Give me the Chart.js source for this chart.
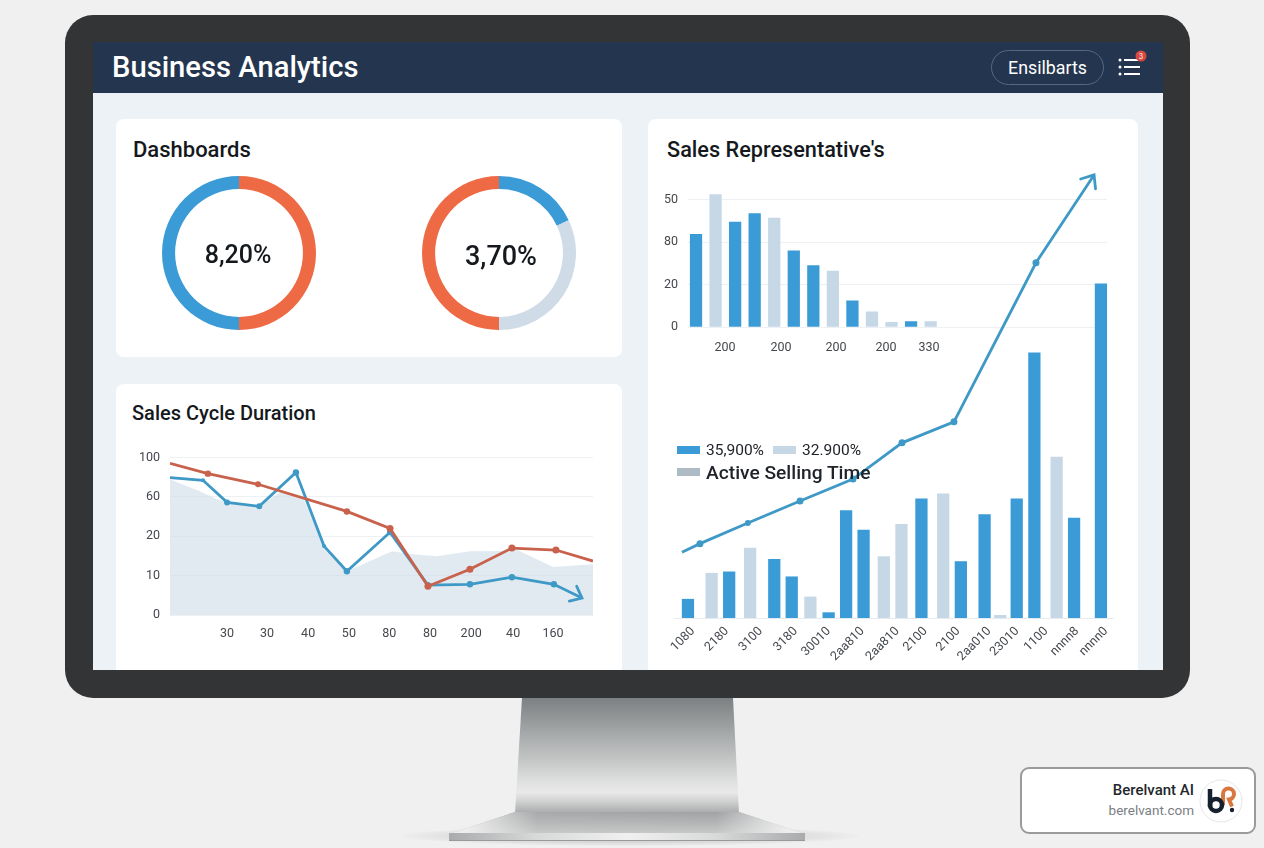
<!DOCTYPE html>
<html lang="en">
<head>
<meta charset="utf-8">
<title>Business Analytics</title>
<script src="https://cdn.jsdelivr.net/npm/chart.js@4"></script>
<style>
html,body{margin:0;padding:0;width:1264px;height:848px;overflow:hidden;background:#f0f0f0;font-family:Roboto,Inter,sans-serif}
.abs,.abs *{box-sizing:border-box}
.abs{position:absolute}
canvas{position:absolute;display:block}
#shadow{left:400px;top:826px;width:460px;height:20px;border-radius:50%;background:radial-gradient(ellipse at center,rgba(120,120,120,.45),rgba(160,160,160,.15) 60%,rgba(240,240,240,0) 72%)}
#stand{left:515px;top:698px;width:224px;height:115px;clip-path:polygon(7px 0,218px 0,224px 100%,0 100%);background:linear-gradient(#7c8082 0,#9a9d9e 22%,#bfc1c1 50%,#dedfdf 72%,#e9e9e9 82%,#cfd0d0 90%,#a9abac 100%)}
#foot{left:449px;top:812px;width:356px;height:22px;clip-path:polygon(66px 0,290px 0,356px 100%,0 100%);background:linear-gradient(90deg,#ededed 5%,rgba(200,201,201,.5) 25%,rgba(200,201,201,.4) 75%,#ededed 95%),linear-gradient(#85888a 0,#a5a8a9 50%,#c9caca 100%)}
#base{left:449px;top:833px;width:356px;height:8px;background:linear-gradient(90deg,#a9abac 0,#d8d9d9 25%,#f0f0f0 50%,#d8d9d9 75%,#a9abac 100%);border-bottom:1.5px solid #97999a}
#bezel{left:65px;top:15px;width:1125px;height:683px;border-radius:28px;background:#333435}
#screen{left:93px;top:42px;width:1070px;height:628px;background:#edf2f6;overflow:hidden}
#header{left:0;top:0;width:1070px;height:51px;background:#24364f}
#title{left:19px;top:6px;font-size:29.2px;line-height:38px;font-weight:500;color:#fff;white-space:nowrap}
#pill{left:898px;top:8px;width:113px;height:35px;border:1.5px solid #56697f;border-radius:18px;color:#fff;font-size:17.8px;line-height:33px;text-align:center}
.card{background:#fff;border-radius:8px}
.cardtitle{font-weight:500;color:#15181c;white-space:nowrap}
#c1{left:23px;top:77px;width:506px;height:238px}
#c2{left:23px;top:342px;width:506px;height:320px}
#c3{left:555px;top:77px;width:490px;height:580px}
.centre{color:#15181c;text-align:center;white-space:nowrap;font-weight:500}
.lg{color:#20242a;white-space:nowrap}
.sw{height:8px;width:23px}
#badge{left:1020px;top:767px;width:236px;height:67px;background:#fff;border:2px solid #9a9a9a;border-radius:9px}
</style>
</head>
<body>
<div class="abs" id="shadow"></div>
<div class="abs" id="stand"></div>
<div class="abs" id="foot"></div>
<div class="abs" id="base"></div>
<div class="abs" id="bezel"></div>
<div class="abs" id="screen">
  <div class="abs" id="header">
    <div class="abs" id="title">Business Analytics</div>
    <div class="abs" id="pill">Ensilbarts</div>
    <svg class="abs" style="left:1020px;top:4px" width="40" height="36" viewBox="0 0 40 36">
      <g stroke="#fff" stroke-width="2" fill="none"><path d="M11 14H27M11 21H27M11 28H27"/></g>
      <g fill="#fff"><circle cx="7" cy="14" r="1.5"/><circle cx="7" cy="21" r="1.5"/><circle cx="7" cy="28" r="1.5"/></g>
      <circle cx="28" cy="10" r="5.5" fill="#d9483f"/>
      <text x="28" y="12.5" fill="#fff" font-size="7" text-anchor="middle" font-family="Inter">3</text>
    </svg>
  </div>
  <div class="abs card" id="c1"><div class="abs cardtitle" style="left:17px;top:17px;font-size:22px;line-height:28px">Dashboards</div></div>
  <div class="abs card" id="c2"><div class="abs cardtitle" style="left:16px;top:16px;font-size:20px;line-height:26px">Sales Cycle Duration</div></div>
  <div class="abs card" id="c3"><div class="abs cardtitle" style="left:19px;top:17px;font-size:21.7px;line-height:28px">Sales Representative's</div></div>
</div>
<canvas id="donutA" width="154" height="154" style="left:162px;top:176px"></canvas>
<canvas id="donutB" width="154" height="154" style="left:422px;top:176px"></canvas>
<div class="abs centre" style="left:160px;top:239px;width:156px;line-height:32px;font-size:25px">8,20%</div>
<div class="abs centre" style="left:423px;top:240px;width:156px;line-height:32px;font-size:27px">3,70%</div>
<canvas id="cycle" width="480" height="205" style="left:130px;top:440px"></canvas>
<canvas id="repsTop" width="470" height="191" style="left:650px;top:174px"></canvas>
<div class="abs" style="left:93px;top:42px;width:1070px;height:628px;overflow:hidden">
  <canvas id="repsMain" width="490" height="505" style="left:547px;top:123px"></canvas>
</div>
<div class="abs sw" style="left:677px;top:446px;background:#3a9bd6"></div>
<div class="abs lg" style="left:706px;top:440px;font-size:15.5px;line-height:20px">35,900%</div>
<div class="abs sw" style="left:773px;top:446px;background:#c6d7e6"></div>
<div class="abs lg" style="left:802px;top:440px;font-size:15.5px;line-height:20px">32.900%</div>
<div class="abs sw" style="left:677px;top:468px;background:#aebac4"></div>
<div class="abs lg" style="left:706px;top:460px;font-size:19.2px;line-height:25px;font-weight:500">Active Selling Time</div>
<div class="abs" id="badge">
  <div class="abs" style="right:60px;top:12px;font-size:15px;line-height:18px;font-weight:500;color:#23272c;white-space:nowrap">Berelvant AI</div>
  <div class="abs" style="right:60px;top:32px;font-size:13.5px;line-height:18px;color:#7b7e83;white-space:nowrap">berelvant.com</div>
  <svg class="abs" style="left:177px;top:10px" width="44" height="44" viewBox="0 0 44 44">
    <circle cx="22" cy="22" r="21" fill="#fff" stroke="#e7e7e7"/>
    <path d="M24 26V15a5.5 5.5 0 1 1 6 5.5l3 7" fill="none" stroke="#d9773f" stroke-width="4"/>
    <path d="M11 10V28" stroke="#17202e" stroke-width="4.5" fill="none"/>
    <circle cx="17" cy="26" r="6" stroke="#17202e" stroke-width="4.5" fill="none"/>
    <circle cx="33" cy="31" r="2.2" fill="#17202e"/>
  </svg>
</div>
<script>
// ---- donuts
const donutALabels = ['Won', 'Open'];
const donutAValues = [50, 50];
const donutBLabels = ['Won', 'Open', 'Lost'];
const donutBValues = [18, 32, 50];

// ---- sales cycle duration (y values are read in axis steps, x in tick slots)
const cycleYTicks = ['0', '10', '20', '60', '100'];
const cycleXTicks = ['30', '30', '40', '50', '80', '80', '200', '40', '160'];
const cycleXSlots = [1, 1.98, 2.99, 3.99, 4.98, 5.98, 6.99, 8.02, 9];
const cycleRedX = [-0.40, 0.53, 1.76, 3.94, 5.0, 5.93, 6.96, 7.99, 9.07, 9.98];
const cycleRedY = [3.85, 3.59, 3.32, 2.63, 2.20, 0.73, 1.16, 1.70, 1.65, 1.37];
const cycleBlueX = [-0.40, 0.41, 1.0, 1.79, 2.69, 3.38, 3.94, 5.0, 5.93, 6.96, 7.99, 9.02, 9.71];
const cycleBlueY = [3.49, 3.42, 2.86, 2.76, 3.62, 1.75, 1.11, 2.10, 0.76, 0.78, 0.96, 0.78, 0.43];
const cycleAreaX = [-0.40, 0.29, 0.71, 1, 1.79, 2.30, 2.86, 3.38, 3.94, 4.44, 5.05, 5.56, 6.15, 6.96, 7.52, 8.12, 9.0, 9.98];
const cycleAreaY = [3.44, 3.16, 2.96, 2.86, 2.76, 3.11, 2.99, 1.75, 1.11, 1.34, 1.62, 1.54, 1.49, 1.62, 1.62, 1.65, 1.22, 1.29];

// ---- sales representative's, upper bars
const topYTicks = ['0', '20', '80', '50'];
const topXTicks = ['200', '200', '200', '200', '330'];
const topXSlots = [1.48, 4.35, 7.16, 9.72, 11.92];
const topBlueSlots = [0, 2, 3, 5, 6, 8, 11];
const topBlueValues = [2.19, 2.48, 2.68, 1.80, 1.45, 0.62, 0.13];
const topLightSlots = [1, 4, 7, 9, 10, 12];
const topLightValues = [3.13, 2.57, 1.32, 0.36, 0.11, 0.13];

// ---- sales representative's, lower bars and trend
const mainXTicks = ['1080', '2180', '3100', '3180', '30010', '2aa810', '2aa810', '2100', '2100', '2aa010', '23010', '1100', 'nnnn8', 'nnnn0'];
const mainXSlots = [1.9, 5.3, 8.7, 12.2, 15.5, 18.9, 22.4, 25.2, 28.5, 31.6, 34.4, 37.3, 40.4, 43.3];
const mainBlueX = [1.4, 5.53, 10.05, 11.8, 15.5, 17.25, 19.0, 24.8, 28.75, 31.13, 34.35, 36.12, 40.1, 42.79];
const mainBlueY = [4.2, 10.3, 13.1, 9.2, 1.2, 24.0, 19.6, 26.6, 12.6, 23.1, 26.6, 59.2, 22.3, 74.6];
const mainLightX = [3.77, 7.63, 13.67, 21.03, 22.8, 26.98, 32.7, 38.35];
const mainLightY = [10.0, 15.6, 4.7, 13.7, 20.9, 27.7, 0.6, 35.9];
const trendX = [0.8, 2.6, 7.4, 12.63, 17.94, 22.85, 28.06, 36.28, 42.1];
const trendY = [14.7, 16.6, 21.2, 26.1, 31.0, 39.1, 43.8, 79.3, 98.9];
const trendRadius = [0, 3.5, 3, 3.5, 3.5, 3.5, 3.5, 3.5, 0];

const pairs = (xs, ys) => xs.map((x, i) => ({x, y: ys[i]}));
const BLUE = '#3a9bd6', LIGHT = '#c6d7e6', ORANGE = '#ee6a45', TEAL = '#3f99c6', RED = '#c9624d';
const tickFont = {family: 'Roboto, Inter, sans-serif', size: 12.5};
Chart.defaults.animation = false;
Chart.defaults.responsive = false;
Chart.defaults.plugins.legend.display = false;
Chart.defaults.plugins.tooltip.enabled = false;

const arrowHead = {
  id: 'arrowHead',
  afterDatasetsDraw(chart, args, opts) {
    const meta = chart.getDatasetMeta(opts.dataset);
    const pts = meta.data, a = pts[pts.length - 2], b = pts[pts.length - 1];
    const ang = Math.atan2(b.y - a.y, b.x - a.x), ctx = chart.ctx, len = opts.size;
    ctx.save();
    ctx.strokeStyle = opts.color; ctx.lineWidth = opts.width; ctx.lineCap = 'round'; ctx.lineJoin = 'miter';
    ctx.beginPath();
    ctx.moveTo(b.x + len * Math.cos(ang + 2.45), b.y + len * Math.sin(ang + 2.45));
    ctx.lineTo(b.x, b.y);
    ctx.lineTo(b.x + len * Math.cos(ang - 2.45), b.y + len * Math.sin(ang - 2.45));
    ctx.stroke();
    ctx.restore();
  }
};

new Chart(document.getElementById('donutA'), {
  type: 'doughnut',
  data: {labels: donutALabels, datasets: [{data: donutAValues, backgroundColor: [ORANGE, BLUE], borderWidth: 0}]},
  options: {cutout: '83%'}
});
new Chart(document.getElementById('donutB'), {
  type: 'doughnut',
  data: {labels: donutBLabels, datasets: [{data: donutBValues, backgroundColor: [BLUE, '#cfdce8', ORANGE], borderWidth: 0}]},
  options: {cutout: '83%'}
});

new Chart(document.getElementById('cycle'), {
  type: 'line',
  data: {datasets: [
    {data: pairs(cycleRedX, cycleRedY), borderColor: RED, backgroundColor: RED, borderWidth: 2.8, pointRadius: [0, 3.2, 3, 3.2, 3.5, 3.5, 3.5, 3.5, 3.5, 0], pointBorderWidth: 0, order: 1},
    {data: pairs(cycleBlueX, cycleBlueY), borderColor: TEAL, backgroundColor: TEAL, borderWidth: 2.8, pointRadius: [0, 2, 3, 3, 3.2, 2, 3.2, 3, 3, 3.2, 3.2, 3.2, 0], pointBorderWidth: 0, order: 2},
    {data: pairs(cycleAreaX, cycleAreaY), borderWidth: 0, pointRadius: 0, fill: 'origin', backgroundColor: 'rgba(205,220,231,.6)', order: 3}
  ]},
  options: {
    layout: {padding: {top: 7.5, right: 17}},
    plugins: {arrowHead: {dataset: 1, size: 13, width: 2.8, color: TEAL}},
    scales: {
      x: {type: 'linear', offset: false, min: -0.4, max: 9.98, grid: {display: false}, border: {display: false},
        afterBuildTicks: s => { s.ticks = cycleXSlots.map(v => ({value: v})); },
        afterFit: s => { s.height = 30; },
        ticks: {autoSkip: false, maxRotation: 0, padding: 3, color: '#44484d', font: tickFont, callback: (v, i) => cycleXTicks[i]}},
      y: {type: 'linear', min: 0, max: 4, grid: {color: '#eef1f4', drawTicks: false}, border: {display: false},
        afterBuildTicks: s => { s.ticks = cycleYTicks.map((t, i) => ({value: i})); },
        afterFit: s => { s.width = 40; },
        ticks: {padding: 10, color: '#44484d', font: tickFont, callback: (v, i) => cycleYTicks[i]}}
    }
  },
  plugins: [arrowHead]
});

new Chart(document.getElementById('repsTop'), {
  type: 'bar',
  data: {datasets: [
    {data: pairs(topBlueSlots, topBlueValues), backgroundColor: BLUE, barThickness: 11.6, grouped: false},
    {data: pairs(topLightSlots, topLightValues), backgroundColor: LIGHT, barThickness: 11.6, grouped: false}
  ]},
  options: {
    layout: {padding: {top: 12.4, right: 13}},
    scales: {
      x: {type: 'linear', offset: false, min: -0.41, max: 21.02, grid: {display: false, offset: false}, border: {display: false},
        afterBuildTicks: s => { s.ticks = topXSlots.map(v => ({value: v})); },
        afterFit: s => { s.height = 38; },
        ticks: {autoSkip: false, maxRotation: 0, padding: 5, color: '#44484d', font: tickFont, callback: (v, i) => topXTicks[i]}},
      y: {type: 'linear', min: 0, max: 3.2, grid: {color: '#eef1f4', drawTicks: false}, border: {display: false},
        afterBuildTicks: s => { s.ticks = topYTicks.map((t, i) => ({value: i})); },
        afterFit: s => { s.width = 38; },
        ticks: {padding: 10, color: '#44484d', font: tickFont, callback: (v, i) => topYTicks[i]}}
    }
  }
});

new Chart(document.getElementById('repsMain'), {
  data: {datasets: [
    {type: 'line', data: pairs(trendX, trendY), borderColor: TEAL, backgroundColor: TEAL, borderWidth: 2.8, pointRadius: trendRadius, pointBorderWidth: 0, order: 1},
    {type: 'bar', data: pairs(mainBlueX, mainBlueY), backgroundColor: BLUE, barThickness: 11.6, grouped: false, order: 2},
    {type: 'bar', data: pairs(mainLightX, mainLightY), backgroundColor: LIGHT, barThickness: 11.6, grouped: false, order: 3}
  ]},
  options: {
    layout: {padding: {left: 34, top: 5, right: 17}},
    plugins: {arrowHead: {dataset: 0, size: 14, width: 2.8, color: TEAL}},
    scales: {
      x: {type: 'linear', offset: false, min: 0, max: 44, grid: {display: false, offset: false, drawTicks: false}, border: {color: '#e6ebef'},
        afterBuildTicks: s => { s.ticks = mainXSlots.map(v => ({value: v})); },
        afterFit: s => { s.height = 52; },
        ticks: {autoSkip: false, minRotation: 45, maxRotation: 45, padding: 6, color: '#44484d', font: {family: tickFont.family, size: 12.5}, callback: (v, i) => mainXTicks[i]}},
      y: {type: 'linear', min: 0, max: 100, display: false}
    }
  },
  plugins: [arrowHead]
});
</script>
</body>
</html>
